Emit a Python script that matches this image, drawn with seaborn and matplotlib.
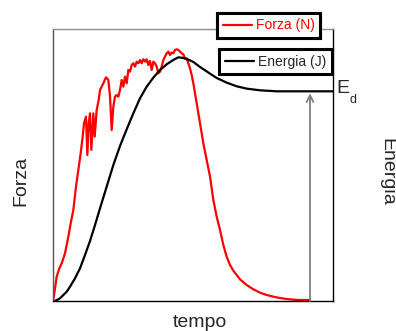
import numpy as np
import pandas as pd
import matplotlib
matplotlib.use('Agg')
import matplotlib.pyplot as plt
import seaborn as sns

# tempo (unità arbitrarie) e forza
t_forza = [0, 1.0, 1.8, 2.5, 3.5, 4.5, 5.2, 6.0, 6.8, 7.5,
           8.2, 8.8, 9.2, 9.8, 10.2, 10.6, 11.0, 11.4, 12.0, 12.4,
           13.0, 13.6, 14.0, 15.0, 15.8, 16.5, 17.0, 17.5, 18.0, 18.5,
           19.0, 19.5, 20.0, 20.5, 21.0, 21.5, 22.0, 22.5, 23.0, 23.5,
           24.0, 24.5, 25.0, 25.5, 26.0, 26.5, 27.0, 27.5, 28.0, 28.5,
           29.0, 29.5, 30.0, 30.5, 31.0, 31.5, 32.0, 32.5, 33.0, 33.5,
           34.0, 34.5, 35.0, 35.5, 36.0, 36.5, 37.0, 37.5, 38.0, 38.5,
           39.0, 39.5, 40.0, 40.5, 41.0, 41.5, 42.0, 42.5, 43.0, 43.5,
           44.0, 44.5, 45.0, 46.0, 47.0, 48.0, 49.0, 50.0, 51.0, 52.0,
           53.0, 54.0, 56.0, 58.0, 60.0, 62.0, 64.0, 66.0, 68.0, 70.0,
           72.0, 74.0, 77.0]
forza = [0.3, 7.3, 9.8, 11.3, 14.3, 19.3, 23.3, 27.3, 34.3, 39.3,
         44.3, 49.3, 53.3, 55.3, 43.8, 53.3, 56.3, 45.3, 56.3, 49.3,
         57.3, 60.3, 63.3, 65.3, 67.1, 66.3, 61.3, 51.3, 58.3, 61.3,
         61.8, 61.3, 63.3, 66.3, 64.3, 67.3, 65.3, 69.3, 68.8, 70.8,
         71.3, 70.3, 71.8, 71.3, 72.3, 71.3, 72.5, 71.8, 72.5, 70.8,
         72.0, 69.3, 71.8, 71.3, 70.3, 68.3, 68.8, 70.3, 72.3, 73.3,
         74.3, 74.8, 73.8, 74.5, 74.3, 75.3, 75.5, 75.3, 74.8, 74.3,
         74.0, 72.8, 72.8, 71.3, 69.8, 67.8, 65.3, 62.3, 59.3, 56.3,
         53.3, 50.3, 47.3, 42.3, 37.3, 30.3, 25.3, 21.3, 16.8, 13.3,
         10.8, 9.1, 6.5, 4.8, 3.5, 2.5, 1.8, 1.3, 0.9, 0.6,
         0.4, 0.3, 0.3]

# energia
t_energia = [0.5, 2.0, 4.0, 5.0, 6.5, 8.0, 9.5, 11.0, 12.5, 14.0,
             16.0, 18.0, 20.0, 22.0, 24.0, 26.0, 28.0, 30.0, 32.0, 34.0,
             36.0, 37.5, 39.0, 40.5, 42.0, 44.0, 47.0, 49.0, 52.0, 55.0,
             58.0, 62.0, 67.0, 74.0, 84.0]
energia = [0.0, 0.8, 2.8, 4.3, 6.8, 9.8, 13.8, 18.0, 22.8, 27.8,
           34.3, 40.8, 46.5, 51.5, 56.3, 60.8, 64.3, 67.0, 69.3, 71.0,
           72.3, 73.1, 72.9, 72.4, 71.7, 70.2, 68.2, 66.9, 65.5, 64.4,
           63.7, 63.2, 62.9, 62.9, 62.9]

E_d = 62.9
t_arrow = 77.0

df_f = pd.DataFrame({'tempo': t_forza, 'valore': forza})
df_e = pd.DataFrame({'tempo': t_energia, 'valore': energia})

sns.set_style('white')
plt.rcParams['font.family'] = ['Liberation Sans', 'DejaVu Sans']

fig = plt.figure(figsize=(3.96, 3.31), dpi=100)
ax = fig.add_axes([0.1347, 0.0906, 0.7071, 0.8209])

sns.lineplot(data=df_f, x='tempo', y='valore', color='#ff0000', lw=1.6,
             ax=ax, legend=False, sort=False)
sns.lineplot(data=df_e, x='tempo', y='valore', color='black', lw=1.6,
             ax=ax, legend=False, sort=False)

ax.annotate('', xy=(t_arrow, E_d - 0.6), xytext=(t_arrow, 0),
            arrowprops=dict(arrowstyle='->', color='#808080', lw=1.3,
                            mutation_scale=12, shrinkA=0, shrinkB=0))

ax.set_xlim(0, 84)
ax.set_ylim(0, 81.5)
ax.set_xticks([])
ax.set_yticks([])
ax.set_xlabel('')
ax.set_ylabel('')

ax.spines['top'].set_color('#8c8c8c')
ax.spines['left'].set_color('#555555')
ax.spines['right'].set_color('black')
ax.spines['bottom'].set_color('black')
for s in ax.spines.values():
    s.set_linewidth(1.0)

ax.text(84.9, E_d - 0.6, 'E', fontsize=14, va='baseline', ha='left')
ax.text(88.9, E_d - 3.4, 'd', fontsize=9, va='baseline', ha='left')

fig.text(0.505, 0.0, 'tempo', fontsize=14, ha='center', va='bottom')
fig.text(0.052, 0.453, 'Forza', fontsize=14, rotation=90, ha='center', va='center')
fig.text(0.978, 0.482, 'Energia', fontsize=14, rotation=-90, ha='center', va='center')

lines = ax.get_lines()
leg1 = fig.legend([lines[0]], ['Forza (N)'], loc='upper left',
                  bbox_to_anchor=(0.548, 0.961), fontsize=10, frameon=True,
                  fancybox=False, edgecolor='black', framealpha=1,
                  handlelength=2.1, borderpad=0.4, handletextpad=0.3,
                  borderaxespad=0)
leg1.get_frame().set_linewidth(2.2)
leg1.get_texts()[0].set_color('#ff0000')
leg2 = fig.legend([lines[1]], ['Energia (J)'], loc='upper left',
                  bbox_to_anchor=(0.553, 0.852), fontsize=10, frameon=True,
                  fancybox=False, edgecolor='black', framealpha=1,
                  handlelength=2.1, borderpad=0.4, handletextpad=0.3,
                  borderaxespad=0)
leg2.get_frame().set_linewidth(2.2)
fig.add_artist(leg1)

fig.savefig('out.png', dpi=100)
